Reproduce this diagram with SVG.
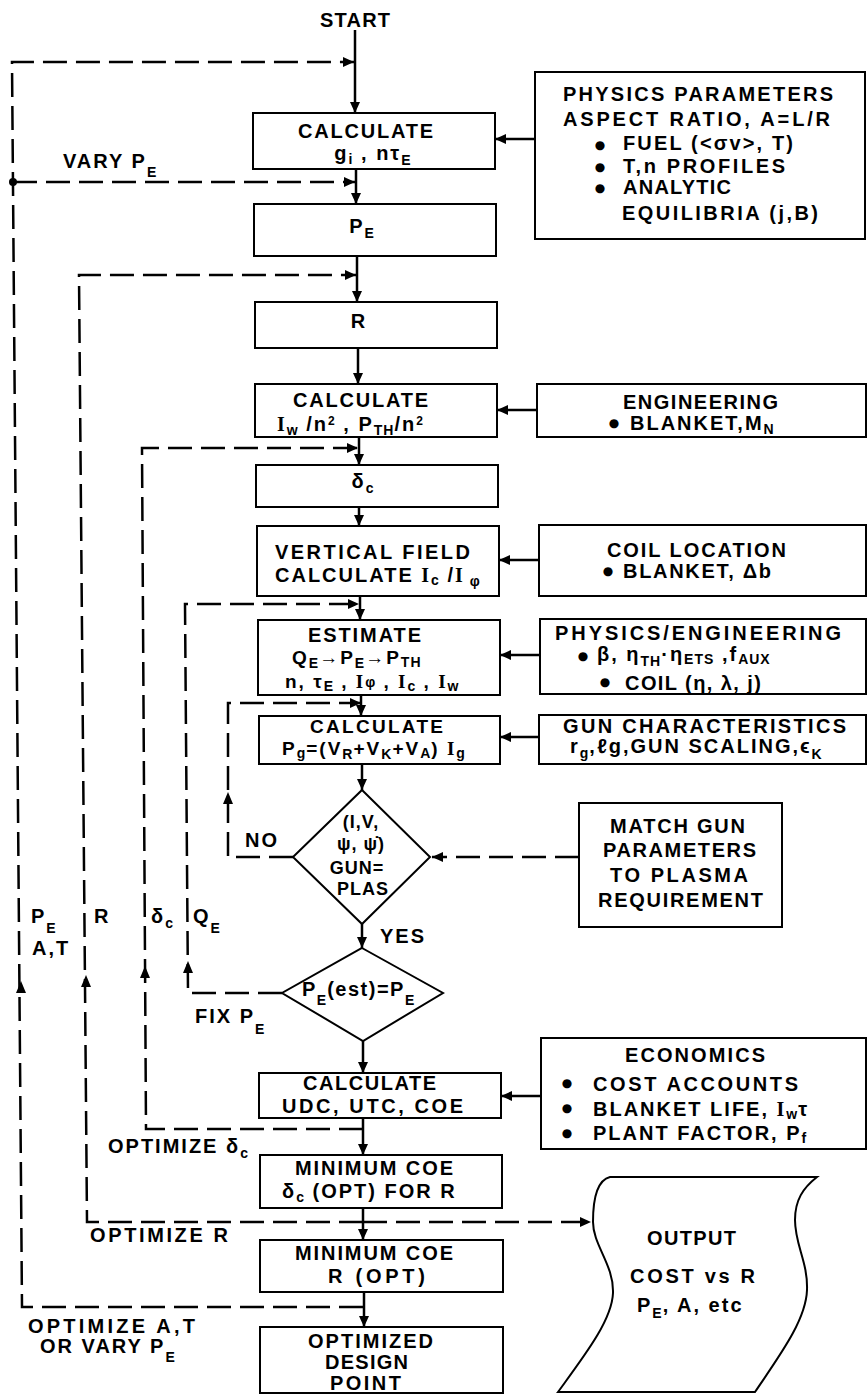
<svg xmlns="http://www.w3.org/2000/svg" width="867" height="1394" viewBox="0 0 867 1394">
<defs>
<style>
.bx{fill:#fff;stroke:#000;stroke-width:2}
.ln{fill:none;stroke:#000;stroke-width:2.5}
.ds{fill:none;stroke:#000;stroke-width:2.5;stroke-dasharray:24 9}
.t{font-family:"Liberation Sans",Arial,sans-serif;font-weight:bold;font-size:20px;letter-spacing:2px;fill:#000}
.m{text-anchor:middle}
.s{font-size:14px;letter-spacing:1px}
.ser{font-family:"Liberation Serif","Times New Roman",serif}
.bu{font-family:"DejaVu Sans",sans-serif;font-size:12px;fill:#000;text-anchor:middle}
.dm{font-size:18px;letter-spacing:1px}
.ah{fill:#000;stroke:none}
</style>
<marker id="arr" markerWidth="12" markerHeight="10" refX="11" refY="5" orient="auto" markerUnits="userSpaceOnUse"><path d="M0,0 L11,5 L0,10 z" class="ah"/></marker>
</defs>
<rect width="867" height="1394" fill="#fff"/>

<g id="connectors">
<path class="ln" d="M355,30 L355,113" marker-end="url(#arr)"/>
<path class="ln" d="M356,169 L356,204" marker-end="url(#arr)"/>
<path class="ln" d="M357,256 L357,302" marker-end="url(#arr)"/>
<path class="ln" d="M358,348 L358,384" marker-end="url(#arr)"/>
<path class="ln" d="M359,437 L359,465" marker-end="url(#arr)"/>
<path class="ln" d="M359,507 L359,526" marker-end="url(#arr)"/>
<path class="ln" d="M360,596 L360,620" marker-end="url(#arr)"/>
<path class="ln" d="M361,695 L361,716" marker-end="url(#arr)"/>
<path class="ln" d="M362,764 L362,790" marker-end="url(#arr)"/>
<path class="ln" d="M362,924 L362,948" marker-end="url(#arr)"/>
<path class="ln" d="M363,1041 L363,1073" marker-end="url(#arr)"/>
<path class="ln" d="M363,1118 L363,1155" marker-end="url(#arr)"/>
<path class="ln" d="M363,1208 L363,1240" marker-end="url(#arr)"/>
<path class="ln" d="M364,1292 L364,1327" marker-end="url(#arr)"/>
<path class="ln" d="M535,139 L495,139" marker-end="url(#arr)"/>
<path class="ln" d="M537,410 L497,410" marker-end="url(#arr)"/>
<path class="ln" d="M539,560 L499,560" marker-end="url(#arr)"/>
<path class="ln" d="M540,655 L500,655" marker-end="url(#arr)"/>
<path class="ln" d="M539,737 L500,737" marker-end="url(#arr)"/>
<path class="ln" d="M541,1096 L501,1096" marker-end="url(#arr)"/>

<path class="ds" d="M363,1307 L22,1307 L12,62 L354,62" marker-end="url(#arr)"/>
<path class="ds" d="M13,182 L355,182" marker-end="url(#arr)"/>
<circle cx="13" cy="182" r="4" class="ah"/>
<path class="ds" d="M363,1222 L87,1222 L79,275 L356,275" marker-end="url(#arr)"/>
<path class="ds" d="M363,1222 L591,1222" marker-end="url(#arr)"/>
<path class="ds" d="M363,1129 L146,1129 L142,448 L358,448" marker-end="url(#arr)"/>
<path class="ds" d="M282,993 L188,993 L185,604 L359,604" marker-end="url(#arr)"/>
<path class="ds" d="M293,857 L228,857 L228,703 L361,703" marker-end="url(#arr)"/>
<path class="ds" d="M579,857 L432,857" marker-end="url(#arr)"/>

<polygon class="ah" points="21,981 16,993 26,993"/>
<polygon class="ah" points="86,975 81,987 91,987"/>
<polygon class="ah" points="145,966 140,978 150,978"/>
<polygon class="ah" points="188,961 183,973 193,973"/>
<polygon class="ah" points="228,792 223,804 233,804"/>

<text class="t" x="63" y="168">VARY P<tspan class="s" dy="9">E</tspan></text>
<text class="t" x="31" y="923">P<tspan class="s" dy="10">E</tspan></text>
<text class="t" x="32" y="955">A,T</text>
<text class="t" x="94" y="923">R</text>
<text class="t" x="151" y="923">δ<tspan class="s" dy="5">c</tspan></text>
<text class="t" x="193" y="923">Q<tspan class="s" dy="10">E</tspan></text>
<text class="t" x="245" y="847">NO</text>
<text class="t" x="380" y="943">YES</text>
<text class="t" x="195" y="1023">FIX P<tspan class="s" dy="11">E</tspan></text>
<text class="t" x="108" y="1153">OPTIMIZE δ<tspan class="s" dy="5">c</tspan></text>
<text class="t" x="90" y="1242" textLength="140">OPTIMIZE R</text>
<text class="t" x="28" y="1333" textLength="169">OPTIMIZE A,T</text>
<text class="t" x="40" y="1353">OR VARY P<tspan class="s" dy="9">E</tspan></text>
</g>

<g id="start"><text class="t" x="320" y="27" textLength="72">START</text></g>

<g id="calc_g">
<rect class="bx" x="253" y="113" width="242" height="56"/>
<text class="t" x="298" y="138" textLength="137">CALCULATE</text>
<text class="t m" x="373" y="160">g<tspan class="s" dy="4">i</tspan><tspan dy="-4"> , nτ</tspan><tspan class="s" dy="5">E</tspan></text>
</g>

<g id="physics_params">
<rect class="bx" x="535" y="72" width="330" height="167"/>
<text class="t" x="563" y="101" textLength="272">PHYSICS PARAMETERS</text>
<text class="t" x="563" y="126" textLength="269">ASPECT RATIO, A=L/R</text>
<text class="bu" x="600" y="149">●</text>
<text class="t" x="623" y="150" textLength="172">FUEL (&lt;σv&gt;, T)</text>
<text class="bu" x="600" y="171">●</text>
<text class="t" x="623" y="173" textLength="164">T,n PROFILES</text>
<text class="bu" x="600" y="192">●</text>
<text class="t" x="623" y="194" textLength="110">ANALYTIC</text>
<text class="t" x="622" y="220" textLength="198">EQUILIBRIA (j,B)</text>
</g>

<g id="pe">
<rect class="bx" x="254" y="204" width="242" height="52"/>
<text class="t m" x="362" y="233">P<tspan class="s" dy="5">E</tspan></text>
</g>

<g id="r">
<rect class="bx" x="255" y="302" width="242" height="46"/>
<text class="t m" x="359" y="328">R</text>
</g>

<g id="calc_n2">
<rect class="bx" x="255" y="384" width="242" height="53"/>
<text class="t" x="293" y="407" textLength="137">CALCULATE</text>
<text class="t" x="277" y="431"><tspan class="ser">I</tspan><tspan class="s" dy="4">w</tspan><tspan dy="-4"> /n</tspan><tspan class="s" dy="-6" style="font-size:12px">2</tspan><tspan dy="6"> , P</tspan><tspan class="s" dy="4">TH</tspan><tspan dy="-4">/n</tspan><tspan class="s" dy="-6" style="font-size:12px">2</tspan></text>
</g>

<g id="engineering">
<rect class="bx" x="537" y="384" width="329" height="53"/>
<text class="t" x="623" y="409" textLength="157">ENGINEERING</text>
<text class="bu" x="614" y="427">●</text>
<text class="t" x="630" y="430">BLANKET,M<tspan class="s" dy="4">N</tspan></text>
</g>

<g id="delta_c">
<rect class="bx" x="256" y="465" width="242" height="42"/>
<text class="t m" x="363" y="488">δ<tspan class="s" dy="5">c</tspan></text>
</g>

<g id="vertical_field">
<rect class="bx" x="257" y="526" width="242" height="70"/>
<text class="t" x="275" y="559" textLength="197">VERTICAL FIELD</text>
<text class="t" x="275" y="582">CALCULATE <tspan class="ser">I</tspan><tspan class="s" dy="3">c</tspan><tspan dy="-3"> /</tspan><tspan class="ser">I</tspan><tspan class="s" dy="4"> φ</tspan></text>
</g>

<g id="coil_location">
<rect class="bx" x="539" y="525" width="327" height="71"/>
<text class="t" x="607" y="557" textLength="181">COIL LOCATION</text>
<text class="bu" x="608" y="575">●</text>
<text class="t" x="623" y="578" textLength="150">BLANKET, Δb</text>
</g>

<g id="estimate">
<rect class="bx" x="258" y="620" width="242" height="75"/>
<text class="t" x="308" y="642" textLength="115">ESTIMATE</text>
<text class="t" x="292" y="664" style="font-size:19px">Q<tspan class="s" dy="4">E</tspan><tspan dy="-4">→P</tspan><tspan class="s" dy="4">E</tspan><tspan dy="-4">→P</tspan><tspan class="s" dy="3">TH</tspan></text>
<text class="t" x="285" y="688" style="font-size:19px">n, τ<tspan class="s" dy="3">E</tspan><tspan dy="-3"> , </tspan><tspan class="ser">I</tspan><tspan class="s" dy="-1">φ</tspan><tspan dy="1"> , </tspan><tspan class="ser">I</tspan><tspan class="s" dy="3">c</tspan><tspan dy="-3"> , </tspan><tspan class="ser">I</tspan><tspan class="s" dy="3">w</tspan></text>
</g>

<g id="physics_engineering">
<rect class="bx" x="540" y="619" width="326" height="75"/>
<text class="t" x="555" y="640" textLength="288">PHYSICS/ENGINEERING</text>
<text class="bu" x="583" y="660">●</text>
<text class="t" x="597" y="661">β, η<tspan class="s" dy="5">TH</tspan><tspan dy="-5">·η</tspan><tspan class="s" dy="3">ETS</tspan><tspan dy="-3"> ,f</tspan><tspan class="s" dy="3">AUX</tspan></text>
<text class="bu" x="605" y="686">●</text>
<text class="t" x="625" y="690" textLength="138">COIL (η, λ, j)</text>
</g>

<g id="calc_pg">
<rect class="bx" x="259" y="716" width="241" height="48"/>
<text class="t" x="310" y="733" textLength="135" style="font-size:19px">CALCULATE</text>
<text class="t" x="282" y="755" style="font-size:19px">P<tspan class="s" dy="3">g</tspan><tspan dy="-3">=(V</tspan><tspan class="s" dy="4">R</tspan><tspan dy="-4">+V</tspan><tspan class="s" dy="4">K</tspan><tspan dy="-4">+V</tspan><tspan class="s" dy="3">A</tspan><tspan dy="-3">) </tspan><tspan class="ser">I</tspan><tspan class="s" dy="3">g</tspan></text>
</g>

<g id="gun_characteristics">
<rect class="bx" x="539" y="715" width="327" height="49"/>
<text class="t" x="563" y="733" textLength="285">GUN CHARACTERISTICS</text>
<text class="t" x="570" y="753">r<tspan class="s" dy="5">g</tspan><tspan dy="-5">,ℓg,GUN SCALING,ϵ</tspan><tspan class="s" dy="6">K</tspan></text>
</g>

<g id="gun_eq_plas">
<polygon class="bx" points="362,790 430,857 362,924 293,857"/>
<text class="t m dm" x="361" y="828">(I,V,</text>
<text class="t m dm" x="361" y="850">ψ, ψ̇)</text>
<text class="t m dm" x="357" y="874">GUN=</text>
<text class="t m dm" x="363" y="895">PLAS</text>
</g>

<g id="match_gun">
<rect class="bx" x="579" y="803" width="203" height="124"/>
<text class="t" x="610" y="833" textLength="137">MATCH GUN</text>
<text class="t" x="603" y="857" textLength="155">PARAMETERS</text>
<text class="t" x="610" y="882" textLength="140">TO PLASMA</text>
<text class="t" x="598" y="907" textLength="167">REQUIREMENT</text>
</g>

<g id="pe_est">
<polygon class="bx" points="362,948 443,993 363,1041 282,993"/>
<text class="t" x="302" y="996" style="letter-spacing:1.5px">P<tspan class="s" dy="9">E</tspan><tspan dy="-9">(est)=P</tspan><tspan class="s" dy="9">E</tspan></text>
</g>

<g id="calc_udc">
<rect class="bx" x="259" y="1073" width="242" height="45"/>
<text class="t" x="303" y="1090" textLength="135">CALCULATE</text>
<text class="t" x="282" y="1113" textLength="183">UDC, UTC, COE</text>
</g>

<g id="economics">
<rect class="bx" x="541" y="1038" width="325" height="111"/>
<text class="t" x="625" y="1062" textLength="142">ECONOMICS</text>
<text class="bu" x="567" y="1087">●</text>
<text class="t" x="593" y="1091" textLength="207">COST ACCOUNTS</text>
<text class="bu" x="567" y="1112">●</text>
<text class="t" x="593" y="1116">BLANKET LIFE, <tspan class="ser">I</tspan><tspan class="s" dy="3">w</tspan><tspan dy="-3">τ</tspan></text>
<text class="bu" x="567" y="1137">●</text>
<text class="t" x="593" y="1140">PLANT FACTOR, P<tspan class="s" dy="3">f</tspan></text>
</g>

<g id="min_coe_dc">
<rect class="bx" x="260" y="1155" width="242" height="53"/>
<text class="t" x="295" y="1175" textLength="160">MINIMUM COE</text>
<text class="t" x="282" y="1198">δ<tspan class="s" dy="4">c</tspan><tspan dy="-4"> (OPT) FOR R</tspan></text>
</g>

<g id="min_coe_r">
<rect class="bx" x="260" y="1240" width="243" height="52"/>
<text class="t" x="295" y="1260" textLength="160">MINIMUM COE</text>
<text class="t" x="328" y="1283" textLength="99">R (OPT)</text>
</g>

<g id="optimized">
<rect class="bx" x="260" y="1327" width="243" height="66"/>
<text class="t" x="308" y="1348" textLength="127">OPTIMIZED</text>
<text class="t" x="325" y="1369" textLength="85">DESIGN</text>
<text class="t" x="330" y="1390" textLength="73">POINT</text>
</g>

<g id="output">
<path class="bx" d="M610,1177 L817,1177 C803,1188 795,1200 795,1220 C795,1245 808,1262 807,1290 C806,1320 780,1355 755,1392 L558,1392 C585,1355 612,1320 613,1293 C614,1265 593,1245 593,1222 C593,1195 598,1180 610,1177 Z"/>
<text class="t" x="647" y="1245" textLength="91">OUTPUT</text>
<text class="t" x="630" y="1283" textLength="127">COST vs R</text>
<text class="t" x="637" y="1312">P<tspan class="s" dy="6">E</tspan><tspan dy="-6">, A, etc</tspan></text>
</g>
</svg>
